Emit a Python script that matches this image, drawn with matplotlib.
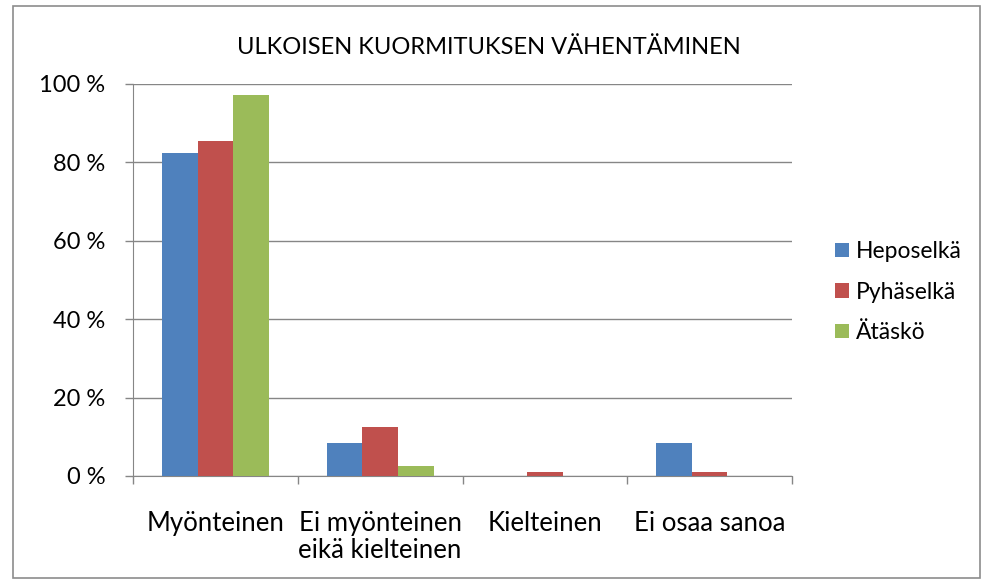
import numpy as np
import matplotlib.pyplot as plt
from matplotlib.patches import Rectangle

categories = ["Myönteinen", "Ei myönteinen\neikä kielteinen", "Kielteinen", "Ei osaa sanoa"]
series = ["Heposelkä", "Pyhäselkä", "Ätäskö"]
heposelka = [82.4, 8.4, 0.0, 8.4]
pyhaselka = [85.4, 12.4, 1.0, 1.0]
ataskö = [97.2, 2.6, 0.0, 0.0]
colors = ["#4F81BD", "#C0504D", "#9BBB59"]
title = "ULKOISEN KUORMITUKSEN VÄHENTÄMINEN"

plt.rcParams['font.family'] = ['Lato', 'DejaVu Sans']

fig = plt.figure(figsize=(9.88, 5.84), dpi=100)
ax = fig.add_axes([133/988, 1-476/584, (792-133)/988, (476-84)/584])

x = np.arange(len(categories))
w = 0.216
for i, (vals, name) in enumerate(zip([heposelka, pyhaselka, ataskö], series)):
    ax.bar(x + (i-1)*w, vals, w, color=colors[i], label=name, zorder=3)

ax.set_xlim(-0.5, len(categories)-0.5)
ax.set_ylim(0, 100)
ax.set_yticks(range(0, 101, 20))
ax.set_yticklabels([f"{v} %" for v in range(0, 101, 20)], fontsize=17)
ax.yaxis.grid(True, color="#868686", lw=1, zorder=0)
ax.set_xticks(x)
ax.set_xticklabels(categories, fontsize=18.5, linespacing=1.12)
ax.tick_params(axis="x", length=0, pad=25)
ax.set_xticks(np.arange(-0.5, len(categories)), minor=True)
ax.tick_params(axis="x", which="minor", length=6, color="#868686", width=1)
ax.tick_params(axis="y", length=6, color="#868686", width=1, pad=14)
for s in ["top", "right"]:
    ax.spines[s].set_visible(False)
ax.spines["left"].set_color("#868686")
ax.spines["bottom"].set_color("#868686")

fig.text(489/988, 1-47/584, title, ha="center", va="center", fontsize=17)

ax.legend(loc="center left", bbox_to_anchor=(835/988, 1-292/584), bbox_transform=fig.transFigure,
          frameon=False, fontsize=16.5, handlelength=0.6, handleheight=0.6, handletextpad=0.3,
          labelspacing=0.85, borderaxespad=0, borderpad=0)

fig.patches.append(Rectangle((13/988, 6/584), (980-13)/988, (578-6)/584, transform=fig.transFigure,
                             fill=False, edgecolor="#8c8c8c", lw=1.2))

fig.savefig("out.png", dpi=100)
